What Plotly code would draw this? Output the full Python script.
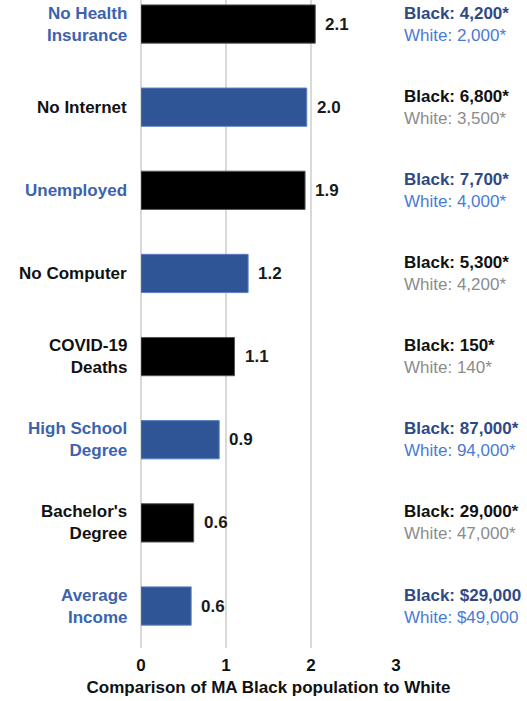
import plotly.graph_objects as go

categories = ["No Health<br>Insurance", "No Internet", "Unemployed", "No Computer",
              "COVID-19<br>Deaths", "High School<br>Degree", "Bachelor's<br>Degree", "Average<br>Income"]
ratios = [2.05, 1.95, 1.93, 1.26, 1.10, 0.92, 0.62, 0.59]
ratio_labels = ["2.1", "2.0", "1.9", "1.2", "1.1", "0.9", "0.6", "0.6"]
black_vals = ["4,200*", "6,800*", "7,700*", "5,300*", "150*", "87,000*", "29,000*", "$29,000"]
white_vals = ["2,000*", "3,500*", "4,000*", "4,200*", "140*", "94,000*", "47,000*", "$49,000"]
bar_is_blue = [False, True, False, True, False, True, False, True]
label_is_blue = [True, False, True, False, False, True, False, True]
x_ticks = [0, 1, 2, 3]

BAR_BLUE = "#2f5597"
LABEL_BLUE = "#3c63ad"
DARK_BLUE = "#2e4a86"
LIGHT_BLUE = "#4a7bd4"
GRAY = "#8c8c8c"
FONT = "Liberation Sans, Arial, sans-serif"

ypos = list(range(len(categories)))

fig = go.Figure()
fig.add_trace(go.Bar(
    x=ratios, y=ypos, orientation="h", width=0.46,
    marker=dict(color=[BAR_BLUE if b else "#000000" for b in bar_is_blue],
                line=dict(color=["#5b7fc4" if b else "#555555" for b in bar_is_blue], width=1)),
    hoverinfo="skip",
))

ann = []
for i in ypos:
    # value labels
    ann.append(dict(x=ratios[i], y=i, xref="x", yref="y", text="<b>%s</b>" % ratio_labels[i],
                    showarrow=False, xanchor="left", xshift=8,
                    font=dict(family=FONT, size=17, color="#1a1a1a")))
    # category labels
    ann.append(dict(x=0, y=i, xref="paper", yref="y", text="<b>%s</b>" % categories[i],
                    showarrow=False, xanchor="right", align="right", xshift=-12,
                    font=dict(family=FONT, size=17, color=LABEL_BLUE if label_is_blue[i] else "#111111")))
    # right annotations
    c1 = DARK_BLUE if label_is_blue[i] else "#111111"
    c2 = LIGHT_BLUE if label_is_blue[i] else GRAY
    txt = ("<span style='color:%s'><b>Black: %s</b></span><br>"
           "<span style='color:%s'>White: %s</span>") % (c1, black_vals[i], c2, white_vals[i])
    ann.append(dict(x=1, y=i, xref="paper", yref="y", text=txt,
                    showarrow=False, xanchor="left", align="left", xshift=6,
                    font=dict(family=FONT, size=17)))

fig.update_layout(
    width=527, height=701,
    margin=dict(l=141, r=130.5, t=0, b=53),
    paper_bgcolor="white", plot_bgcolor="white",
    showlegend=False,
    annotations=ann,
    xaxis=dict(range=[0, 3], tickvals=x_ticks, ticktext=["<b>%d</b>" % v for v in x_ticks],
               showgrid=True, gridcolor="#d9d9d9", gridwidth=1.5,
               zeroline=True, zerolinecolor="#d9d9d9", zerolinewidth=1.5,
               showline=False, ticks="", ticklabelstandoff=5,
               tickfont=dict(family=FONT, size=17, color="#111111"),
               title=dict(text="<b>Comparison of MA Black population to White</b>",
                          font=dict(family=FONT, size=17, color="#111111"), standoff=7),
               fixedrange=True),
    yaxis=dict(range=[7.505, -0.289], showticklabels=False, showgrid=False,
               zeroline=False, showline=False, ticks="", fixedrange=True),
)

fig.write_html("out.html", config={"displayModeBar": False, "staticPlot": True},
               post_script="document.body.style.margin='0';document.body.style.overflow='hidden';")
